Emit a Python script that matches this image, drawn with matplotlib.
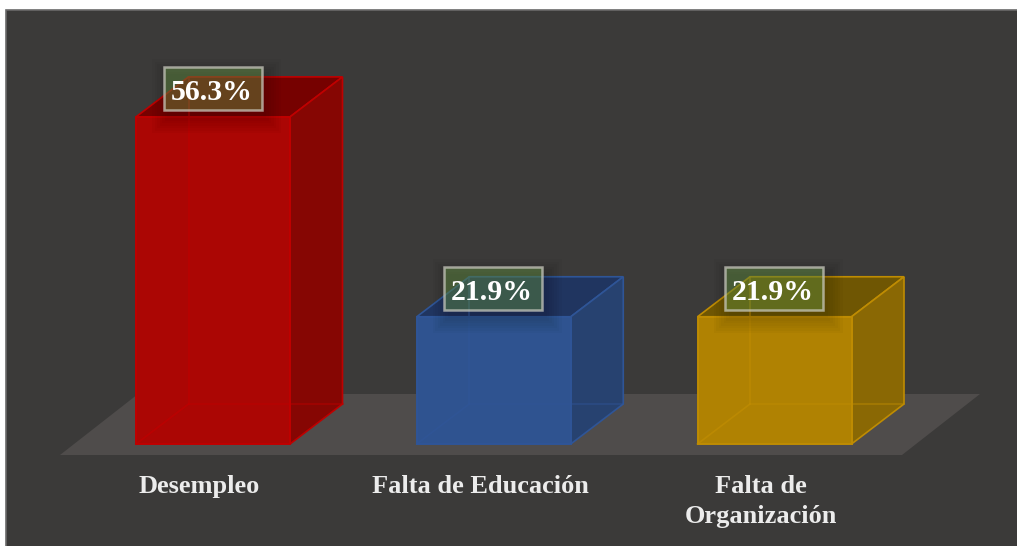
import matplotlib
matplotlib.use("Agg")
import matplotlib.pyplot as plt
from matplotlib.patches import Polygon, Rectangle

categories = ["Desempleo", "Falta de Educación", "Falta de\nOrganización"]
values = [56.3, 21.9, 21.9]
value_labels = ["56.3%", "21.9%", "21.9%"]

FRONT = ["#ab0604", "#2f5390", "#b08202"]
SIDE = ["#860603", "#274270", "#8a6804"]
TOP = ["#760100", "#203560", "#6f5603"]
EDGE = ["#bf0000", "#2f5597", "#bf8c02"]

W, H = 1017, 546
PX_X, X0 = 280.75, 213.0
PX_Y, Y0 = 5.81, 444.0

fig = plt.figure(figsize=(W / 100, H / 100), dpi=100, facecolor="white")
ax = fig.add_axes([0, 0, 1, 1])
ax.set_xlim(-X0 / PX_X, (W - X0) / PX_X)
ax.set_ylim((Y0 - H) / PX_Y, Y0 / PX_Y)
ax.axis("off")

fig.patches.append(Rectangle((6 / W, -0.1), 1.2, 1.1 - 10 / H, transform=fig.transFigure,
                             fc="#3b3a39", ec="#6a6a6a", lw=1.2, zorder=-5))

dx, dy = 52.5 / PX_X, 40 / PX_Y
half = 77 / PX_X
sx, sy = 1 / PX_X, 1 / PX_Y

floor_left, floor_right = -153 * sx, 689 * sx
floor_low, floor_high = -11 * sy, 50 * sy
ax.add_patch(Polygon([(floor_left, floor_low), (floor_right, floor_low),
                      (floor_right + 78 * sx, floor_high), (floor_left + 78 * sx, floor_high)],
                     closed=True, fc="#4f4c4b", ec="none", zorder=1))

for i, (v, lab) in enumerate(zip(values, value_labels)):
    l, r = i - half, i + half
    ax.add_patch(Polygon([(l + dx, v + dy), (r + dx, v + dy), (r, v), (l, v)], closed=True,
                         fc=TOP[i], ec=EDGE[i], lw=1.2, zorder=2))
    ax.add_patch(Polygon([(r, 0), (r + dx, dy), (r + dx, v + dy), (r, v)], closed=True,
                         fc=SIDE[i], ec=EDGE[i], lw=1.2, zorder=3))
    ax.add_patch(Rectangle((l, 0), r - l, v, fc=FRONT[i], ec=EDGE[i], lw=1.4, zorder=4))
    # hidden edges seen through the translucent faces
    ax.plot([l, l + dx], [0, dy], color=EDGE[i], lw=1.2, alpha=.75, zorder=5)
    ax.plot([l + dx, r + dx], [dy, dy], color=EDGE[i], lw=1.2, alpha=.5, zorder=5)
    ax.plot([l + dx, l + dx], [dy, v + dy], color=EDGE[i], lw=1.2, alpha=.7, zorder=5)

    # soft shadow around the label
    bx0 = i - 49.5 * sx
    bw = 98 * sx
    base = v + 7 * sy
    for k in range(7):
        g = (7 - k) * 2.5
        ax.add_patch(Rectangle((bx0 + (6 - g) * sx, base - (6 + g) * sy),
                               bw + (2 * g - 4) * sx, (43 + 2 * g - 4) * sy,
                               fc="black", ec="none", alpha=.022, zorder=6))
    # data label
    ax.add_patch(Rectangle((bx0, base), bw, 43 * sy, fc=(0.42, 0.62, 0.28, 0.42),
                           ec=(0.80, 0.80, 0.76, 0.72), lw=1.8, zorder=7))
    ax.text(i - 1.5 * sx, base + 17.5 * sy, lab, ha="center", va="center", color="white",
            fontsize=21.5, family="Liberation Serif", fontweight="bold", zorder=8)
    # category label
    ax.text(i - 13.5 * sx, -31 * sy, categories[i], ha="center", va="top", color="#ececec",
            fontsize=19, family="Liberation Serif", fontweight="bold", linespacing=1.4, zorder=8)

fig.savefig("out.png", dpi=100, facecolor="white")
